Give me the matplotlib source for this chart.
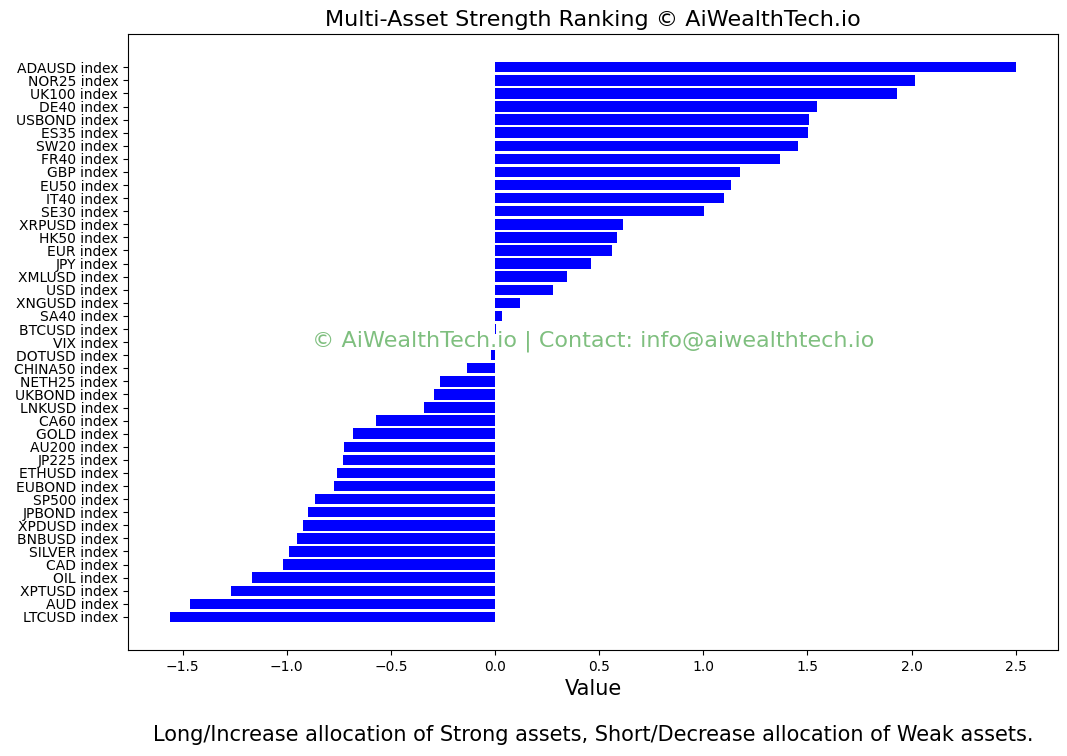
import matplotlib
matplotlib.use("Agg")
import matplotlib.pyplot as plt

# Assets listed top to bottom, strongest first
ASSETS = [
	"ADAUSD", "NOR25", "UK100", "DE40", "USBOND", "ES35", "SW20", "FR40",
	"GBP", "EU50", "IT40", "SE30", "XRPUSD", "HK50", "EUR", "JPY",
	"XMLUSD", "USD", "XNGUSD", "SA40", "BTCUSD", "VIX", "DOTUSD", "CHINA50",
	"NETH25", "UKBOND", "LNKUSD", "CA60", "GOLD", "AU200", "JP225", "ETHUSD",
	"EUBOND", "SP500", "JPBOND", "XPDUSD", "BNBUSD", "SILVER", "CAD", "OIL",
	"XPTUSD", "AUD", "LTCUSD",
]

STRENGTH = [
	2.50, 2.015, 1.93, 1.546, 1.506, 1.501, 1.453, 1.368,
	1.176, 1.133, 1.099, 1.003, 0.614, 0.585, 0.561, 0.46,
	0.345, 0.278, 0.12, 0.034, 0.003, -0.001, -0.019, -0.134,
	-0.264, -0.293, -0.341, -0.571, -0.681, -0.725, -0.729, -0.758,
	-0.773, -0.864, -0.897, -0.921, -0.95, -0.988, -1.017, -1.166,
	-1.267, -1.464, -1.559,
]

LABELS = [f"{a} index" for a in ASSETS]


def main() -> None:
	fig = plt.figure(figsize=(10.67, 7.56), dpi=100)
	ax = fig.add_axes([0.12, 0.14, 0.8716, 0.815])

	ax.barh(LABELS, STRENGTH, color="blue")
	ax.invert_yaxis()

	ax.set_title("Multi-Asset Strength Ranking © AiWealthTech.io", fontsize=16)
	ax.set_xlabel("Value", fontsize=15)

	ax.text(
		0.5, 0.502, "© AiWealthTech.io | Contact: info@aiwealthtech.io",
		transform=ax.transAxes, ha="center", va="center",
		fontsize=16, color="green", alpha=0.5,
	)

	fig.text(
		0.556, 0.028,
		"Long/Increase allocation of Strong assets, Short/Decrease allocation of Weak assets.",
		ha="center", va="center", fontsize=15,
	)

	fig.savefig("out.png", dpi=100)
	plt.close("all")


if __name__ == "__main__":
	main()
